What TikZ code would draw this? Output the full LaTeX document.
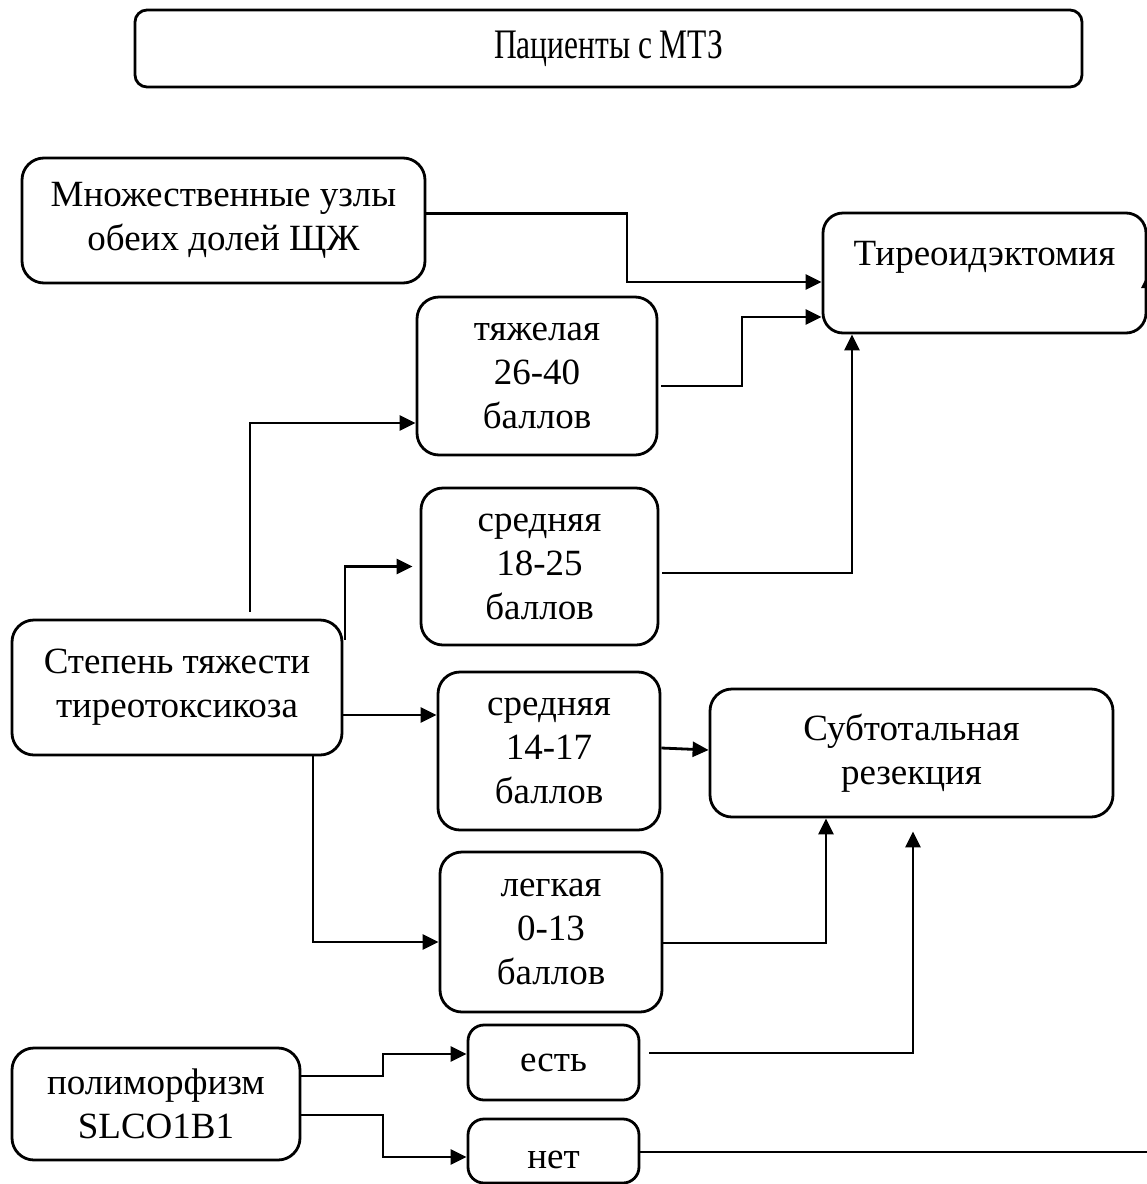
\documentclass[tikz,border=0pt]{standalone}
\usepackage{fontspec}
\usepackage{graphicx}
\setmainfont{Liberation Serif}
\usetikzlibrary{arrows.meta,calc}
\begin{document}
\begin{tikzpicture}[x=1pt,y=-1pt,
  boxfont/.style={font=\fontsize{37}{44}\selectfont},
  box/.style={draw,line width=2.8pt,rounded corners=22pt,align=center,inner sep=0pt,boxfont},
  arr/.style={line width=2.8pt,-{Triangle[length=16pt,width=15pt]}}]
\useasboundingbox (0,0) rectangle (1147,1184);
\clip (0,0) rectangle (1147,1184);
\node[box,rounded corners=12pt,minimum width=947pt,minimum height=77pt] (top) at (608.5,48.5) {\fontsize{42}{48}\selectfont\scalebox{0.75}[1]{Пациенты с МТЗ}};
\node[box,minimum width=403pt,minimum height=125pt] (mult) at (223.5,220.5) {Множественные узлы\\обеих долей ЩЖ};
\node[box,rounded corners=20pt,minimum width=323pt,minimum height=120pt,
  label={[boxfont,anchor=north,yshift=-26pt]north:Тиреоидэктомия}] (tir) at (984.5,273) {};
\node[box,minimum width=240pt,minimum height=158pt] (heavy) at (537,376) {тяжелая\\26-40\\баллов};
\node[box,minimum width=237pt,minimum height=157pt] (mid1) at (539.5,566.5) {средняя\\18-25\\баллов};
\node[box,minimum width=330pt,minimum height=135pt] (step) at (177,687.5) {Степень тяжести\\тиреотоксикоза};
\node[box,minimum width=222pt,minimum height=158pt] (mid2) at (549,751) {средняя\\14-17\\баллов};
\node[box,minimum width=403pt,minimum height=128pt] (sub) at (911.5,753) {Субтотальная\\резекция};
\node[box,minimum width=222pt,minimum height=160pt] (light) at (551,932) {легкая\\0-13\\баллов};
\node[box,minimum width=288pt,minimum height=112pt] (poly) at (156,1104) {полиморфизм\\SLCO1B1};
\node[box,rounded corners=16pt,minimum width=171pt,minimum height=75pt] (yes) at (553.5,1062.5) {есть};
\node[box,rounded corners=16pt,minimum width=171pt,minimum height=64pt,
  label={[boxfont,yshift=-9pt]center:нет}] (no) at (553.5,1151) {};
\coordinate (edge) at (1149,272);
% connectors
\draw[arr] ($(mult.east)+(0,-7)$) -- (627,213.5) |- ($(tir.west)+(0,9)$);
\draw[arr] ($(heavy.east)+(3,10)$) -- (742,386) |- ($(tir.west)+(0,44)$);
\draw[arr] ($(mid1.east)+(3,6.5)$) -| ($(tir.south)+(-132.5,0)$);
\draw[arr] ($(step.north)+(73,-7)$) |- ($(heavy.west)+(0,47)$);
\draw[arr] ($(step.east)+(1.5,-47.5)$) |- ($(mid1.west)+(-7,0)$);
\draw[arr] ($(step.east)+(0,27.5)$) -- ($(mid2.west)+(0,-36)$);
\draw[arr] ($(step.south)+(136,0)$) |- ($(light.west)+(0,10)$);
\draw[arr] ($(mid2.east)+(0,-3)$) -- ($(sub.west)+(0,-3)$);
\draw[arr] ($(light.east)+(0,11)$) -| ($(sub.south)+(-85.5,0)$);
\draw[arr] ($(yes.east)+(9,-9.5)$) -| ($(sub.south)+(1.5,13)$);
\draw[arr] ($(poly.east)+(0,-28)$) -- (383,1076) |- ($(yes.west)+(0,-8.5)$);
\draw[arr] ($(poly.east)+(0,11)$) -- (383,1115) |- ($(no.west)+(0,6)$);
\draw[arr] ($(no.east)+(0,1)$) -| (edge);
\end{tikzpicture}
\end{document}
